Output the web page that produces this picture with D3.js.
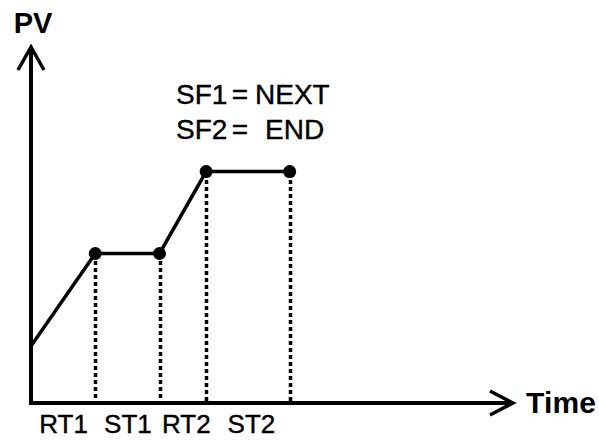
<!DOCTYPE html>
<html>
<head>
<meta charset="utf-8">
<script src="https://cdn.jsdelivr.net/npm/d3@7"></script>
<style>
  body { margin: 0; background: #fff; }
  svg { display: block; font-family: "Liberation Sans", Arial, sans-serif; }
</style>
</head>
<body>
<div id="chart"></div>
<script>
// segments of the program profile (time units) and PV at each breakpoint
const segments = ['RT1', 'ST1', 'RT2', 'ST2'];
const durations = [4, 4, 2.9, 5.2];
const pvValues = [16, 42, 42, 65, 65];
const flags = [['SF1', 'NEXT'], ['SF2', 'END']];

const width = 599, height = 440;
const x = d3.scaleLinear().domain([0, 30]).range([31, 513]);
const y = d3.scaleLinear().domain([0, 100]).range([403, 47]);

// cumulative breakpoints
const times = [0];
durations.forEach(d => times.push(times[times.length - 1] + d));
const points = times.map((t, i) => ({ t: t, pv: pvValues[i] }));
const mids = segments.map((s, i) => (times[i] + times[i + 1]) / 2);

const svg = d3.select('#chart')
  .append('svg')
  .attr('width', width)
  .attr('height', height);

// segment labels under the time axis
const xAxis = svg.append('g')
  .attr('transform', 'translate(0,' + y(0) + ')')
  .call(d3.axisBottom(x)
    .tickValues(mids)
    .tickSize(0)
    .tickPadding(12)
    .tickFormat((d, i) => segments[i]));
xAxis.select('.domain').remove();
xAxis.selectAll('text')
  .attr('font-family', '"Liberation Sans", Arial, sans-serif')
  .attr('font-size', 26)
  .attr('fill', '#000')
  .attr('stroke', '#000')
  .attr('stroke-width', 0.4)
  .attr('dy', '0.70em')
  .attr('dx', (d, i) => i >= 2 ? 3 : 0);

// dotted drop lines
svg.selectAll('.drop')
  .data(points.slice(1))
  .enter()
  .append('line')
  .attr('class', 'drop')
  .attr('x1', d => Math.round(x(d.t)) + 0.5)
  .attr('x2', d => Math.round(x(d.t)) + 0.5)
  .attr('y1', d => Math.round(y(d.pv)) + 8)
  .attr('y2', y(0))
  .attr('stroke', '#000')
  .attr('stroke-width', 3.5)
  .attr('stroke-dasharray', '4,3');

// axes with open arrow heads
const axisPath = d3.path();
axisPath.moveTo(x(0), y(100));
axisPath.lineTo(x(0), y(0));
axisPath.lineTo(x(30), y(0));
svg.append('path')
  .attr('d', axisPath.toString())
  .attr('fill', 'none')
  .attr('stroke', '#000')
  .attr('stroke-width', 4)
  .attr('stroke-linejoin', 'miter');

svg.append('path')
  .attr('d', 'M' + (x(0) - 13) + ',' + (y(100) + 23) + 'L' + x(0) + ',' + y(100) +
    'L' + (x(0) + 13) + ',' + (y(100) + 23))
  .attr('fill', 'none')
  .attr('stroke', '#000')
  .attr('stroke-width', 3.5);

svg.append('path')
  .attr('d', 'M' + (x(30) - 23) + ',' + (y(0) - 12) + 'L' + x(30) + ',' + y(0) +
    'L' + (x(30) - 23) + ',' + (y(0) + 12))
  .attr('fill', 'none')
  .attr('stroke', '#000')
  .attr('stroke-width', 3.5);

svg.append('text')
  .attr('x', x(0) + 2)
  .attr('y', 33)
  .attr('text-anchor', 'middle')
  .attr('font-size', 29)
  .attr('font-weight', 'bold')
  .text('PV');

svg.append('text')
  .attr('x', 526)
  .attr('y', 413)
  .attr('font-size', 30)
  .attr('font-weight', 'bold')
  .attr('textLength', 70)
  .text('Time');

// profile line
const line = d3.line()
  .x(d => x(d.t))
  .y(d => y(d.pv));

svg.append('path')
  .datum(points)
  .attr('d', line)
  .attr('fill', 'none')
  .attr('stroke', '#000')
  .attr('stroke-width', 3.5);

svg.selectAll('.pt')
  .data(points.slice(1))
  .enter()
  .append('circle')
  .attr('class', 'pt')
  .attr('cx', d => x(d.t))
  .attr('cy', d => y(d.pv))
  .attr('r', 6.5)
  .attr('fill', '#000');

// flag annotation
const note = svg.selectAll('.flag')
  .data(flags)
  .enter()
  .append('g')
  .attr('class', 'flag')
  .attr('font-size', 28)
  .attr('stroke', '#000')
  .attr('stroke-width', 0.4);
note.append('text')
  .attr('x', 176)
  .attr('y', (d, i) => 104 + i * 35)
  .text(d => d[0]);
note.append('text')
  .attr('x', 240)
  .attr('y', (d, i) => 104 + i * 35)
  .attr('text-anchor', 'middle')
  .text('=');
note.append('text')
  .attr('x', (d, i) => i === 0 ? 255 : 265)
  .attr('y', (d, i) => 104 + i * 35)
  .text(d => d[1]);
</script>
</body>
</html>
